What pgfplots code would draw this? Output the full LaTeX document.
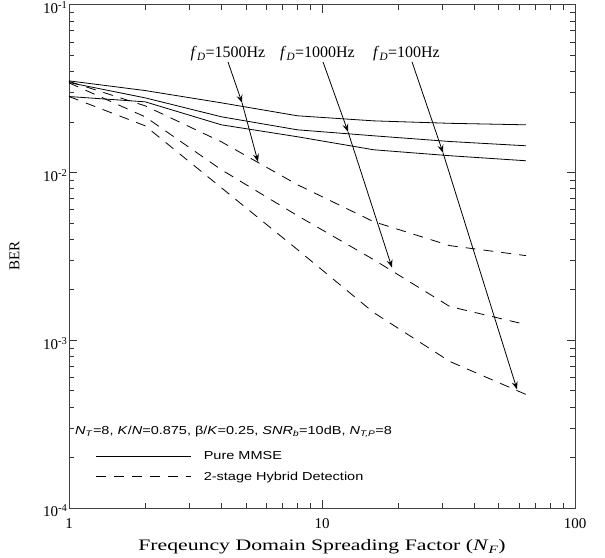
\documentclass[border=0pt]{standalone}
\usepackage{fontspec}
\setmainfont{Liberation Serif}
\newfontfamily\sansst{Liberation Sans}[FakeStretch=1.25]
\newfontfamily\serifst{Liberation Serif}[FakeStretch=1.36]
\usepackage{pgfplots}
\pgfplotsset{compat=1.18}
\usetikzlibrary{arrows.meta}

\begin{document}
\begin{tikzpicture}
\begin{axis}[
    scale only axis,
    width=506bp, height=503.3bp,
    xmode=log, ymode=log,
    xmin=1, xmax=100, ymin=1e-4, ymax=1e-1,
    xtick={1,10,100}, xticklabels={1,10,100},
    ytick={1e-4,1e-3,1e-2,1e-1},
    yticklabels={10\textsuperscript{-4},10\textsuperscript{-3},10\textsuperscript{-2},10\textsuperscript{-1}},
    tick pos=both, tick align=inside,
    major tick length=8bp, minor tick length=5bp,
    axis line style={black!75, line width=0.8bp},
    every tick/.style={black!80, line width=0.7bp},
    minor tick style={black!80, line width=0.7bp},
    tick label style={font=\fontsize{15bp}{18bp}\selectfont},
    yticklabel style={inner sep=1.5bp, anchor=east, yshift=-3bp},
    xticklabel style={inner sep=1bp, yshift=-9bp},
    xlabel={\serifst Freqeuncy Domain Spreading Factor (\textit{N}\textsubscript{\textit{F}})},
    xlabel style={at={(axis description cs:0.5,-0.085)}, anchor=base, font=\fontsize{16bp}{19bp}\selectfont},
    ylabel={BER},
    ylabel style={at={(axis description cs:-0.108,0.5)}, anchor=center, font=\fontsize{15bp}{18bp}\selectfont},
    clip=false,
    legend style={at={(axis description cs:0.053,0.117)}, anchor=north west,
        draw=none, fill=none, inner sep=0pt, row sep=7bp,
        font=\sansst\fontsize{11.6bp}{14bp}\selectfont,
        cells={anchor=west},
        /tikz/every odd column/.append style={column sep=10bp}},
    legend image code/.code={\draw[#1] (0bp,0bp) -- (95bp,0bp);},
]
% pure MMSE
\addplot[black, line width=0.8bp] coordinates {
    (1,0.03515) (2,0.03077) (4,0.0260) (8,0.02176) (16,0.0203) (32,0.01963) (64,0.01923)};
\addlegendentry{Pure MMSE}
\addplot[black, line width=0.8bp, forget plot] coordinates {
    (1,0.03434) (2,0.02784) (4,0.02147) (8,0.01795) (16,0.01654) (32,0.01529) (64,0.01442)};
\addplot[black, line width=0.8bp, forget plot] coordinates {
    (1,0.02835) (2,0.02636) (4,0.01923) (8,0.01632) (16,0.01365) (32,0.01258) (64,0.01174)};
% 2-stage hybrid
\addplot[black, line width=0.8bp, dash pattern=on 10bp off 8bp] coordinates {
    (1,0.03490) (2,0.02495) (4,0.01523) (8,0.008448) (16,0.005087) (32,0.003663) (64,0.003193)};
\addlegendentry{2-stage Hybrid Detection}
\addplot[black, line width=0.8bp, dash pattern=on 10bp off 8bp, forget plot] coordinates {
    (1,0.03420) (2,0.02146) (4,0.01038) (8,0.005526) (16,0.003023) (32,0.001587) (64,0.001240)};
\addplot[black, line width=0.8bp, dash pattern=on 10bp off 8bp, forget plot] coordinates {
    (1,0.02835) (2,0.01897) (4,0.008107) (8,0.003467) (16,0.001462) (32,0.000747) (64,0.000475)};

% Doppler arrows
\draw[black, line width=0.8bp, -{Stealth[length=8bp,width=6bp,inset=3bp]}] (axis cs:4.25,0.0456) -- (axis cs:4.83,0.0260);
\draw[black, line width=0.8bp, -{Stealth[length=8bp,width=6bp,inset=3bp]}] (axis cs:4.83,0.0260) -- (axis cs:5.585,0.01158);
\draw[black, line width=0.8bp, -{Stealth[length=8bp,width=6bp,inset=3bp]}] (axis cs:10.09,0.0456) -- (axis cs:12.67,0.01747);
\draw[black, line width=0.8bp, -{Stealth[length=8bp,width=6bp,inset=3bp]}] (axis cs:12.67,0.01747) -- (axis cs:18.91,0.002709);
\draw[black, line width=0.8bp, -{Stealth[length=8bp,width=6bp,inset=3bp]}] (axis cs:22.69,0.0456) -- (axis cs:30.08,0.01310);
\draw[black, line width=0.8bp, -{Stealth[length=8bp,width=6bp,inset=3bp]}] (axis cs:30.08,0.01310) -- (axis cs:59.0,0.000509);

\node[anchor=base, inner sep=0pt, font=\fontsize{16bp}{19bp}\selectfont] at (axis description cs:0.3142,0.8947) {\textit{f}\textsubscript{\textit{D}}=1500Hz};
\node[anchor=base, inner sep=0pt, font=\fontsize{16bp}{19bp}\selectfont] at (axis description cs:0.4911,0.8947) {\textit{f}\textsubscript{\textit{D}}=1000Hz};
\node[anchor=base, inner sep=0pt, font=\fontsize{16bp}{19bp}\selectfont] at (axis description cs:0.6670,0.8947) {\textit{f}\textsubscript{\textit{D}}=100Hz};

\node[anchor=base west, inner sep=0pt, font=\sansst\fontsize{11.6bp}{14bp}\selectfont] at (axis description cs:0.0119,0.145)
    {\textit{N}\textsubscript{\textit{T}}=8, \textit{K}/\textit{N}=0.875, β/\textit{K}=0.25, \textit{SNR}\textsubscript{\textit{b}}=10dB, \textit{N}\textsubscript{\textit{T,P}}=8};

\coordinate (bbsw) at (axis description cs:-0.1364,-0.0993);
\coordinate (bbne) at (axis description cs:1.0593,1.0093);
\end{axis}
\pgfresetboundingbox
\useasboundingbox (bbsw) rectangle (bbne);
\end{tikzpicture}
\end{document}
